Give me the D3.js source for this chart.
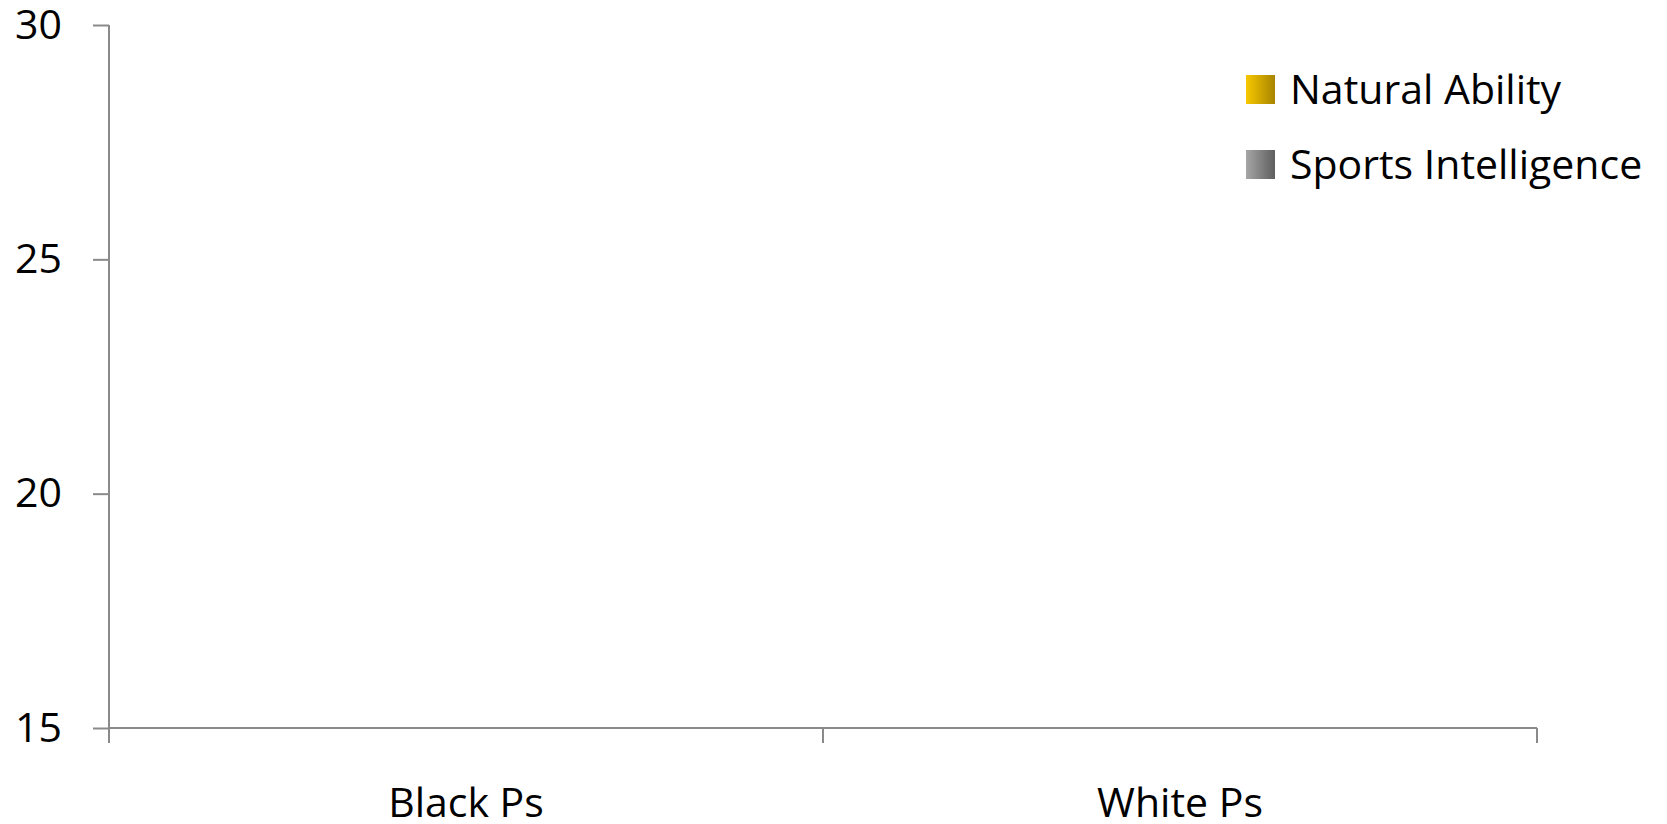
<!DOCTYPE html>
<html>
<head>
<meta charset="utf-8">
<script src="https://cdnjs.cloudflare.com/ajax/libs/d3/7.8.5/d3.min.js"></script>
<style>
  body { margin: 0; background: #fff; }
  svg text { font-family: "Open Sans", Lato, sans-serif; fill: #000; }
</style>
</head>
<body>
<div id="chart"></div>
<script>
// data: bars sit on (or below) the 15 baseline, so none show
var categories = ["Black Ps", "White Ps"];
var seriesNames = ["Natural Ability", "Sports Intelligence"];
var naturalAbility = [15, 15];
var sportsIntelligence = [15, 15];
var yTicks = [15, 20, 25, 30];

var W = 1667, H = 824;
var margin = {top: 25, right: 130, bottom: 96, left: 109};
var width = 1537 - margin.left,
    height = 728 - margin.top;
var fontSize = "41px";

var svg = d3.select("#chart").append("svg")
    .attr("width", W)
    .attr("height", H);

var defs = svg.append("defs");
var grads = [
    {id: "gGold", from: "#f7c800", to: "#a88400"},
    {id: "gGray", from: "#a6a6a6", to: "#5e5e5e"}
];
grads.forEach(function(g){
    var lg = defs.append("linearGradient").attr("id", g.id)
        .attr("x1", "0%").attr("x2", "100%").attr("y1", "0%").attr("y2", "0%");
    lg.append("stop").attr("offset", "0%").attr("stop-color", g.from);
    lg.append("stop").attr("offset", "100%").attr("stop-color", g.to);
});
var colors = {"Natural Ability": "url(#gGold)", "Sports Intelligence": "url(#gGray)"};

var g = svg.append("g")
    .attr("transform", "translate(" + margin.left + "," + margin.top + ")");

var y = d3.scaleLinear().domain([15, 30]).range([height, 0]);
var x0 = d3.scaleBand().domain(categories).range([0, width]);
var x1 = d3.scaleBand().domain(seriesNames).range([0, x0.bandwidth()]).paddingOuter(0.75);

var rows = categories.map(function(c, i){
    return {cat: c, vals: [
        {key: seriesNames[0], value: naturalAbility[i]},
        {key: seriesNames[1], value: sportsIntelligence[i]}
    ]};
});

// bars
g.selectAll(".grp")
    .data(rows)
    .enter().append("g")
    .attr("class", "grp")
    .attr("transform", function(d){ return "translate(" + x0(d.cat) + ",0)"; })
    .selectAll("rect")
    .data(function(d){ return d.vals; })
    .enter().append("rect")
    .attr("x", function(d){ return x1(d.key); })
    .attr("width", x1.bandwidth())
    .attr("y", function(d){ return y(Math.max(15, d.value)); })
    .attr("height", function(d){ return y(15) - y(Math.max(15, d.value)); })
    .attr("fill", function(d){ return colors[d.key]; });

var axisColor = "#8a8a8a";

// y axis
var yAxis = g.append("g")
    .call(d3.axisLeft(y).tickValues(yTicks).tickSize(16).tickPadding(31).tickFormat(d3.format("d")));
yAxis.selectAll("line").attr("stroke", axisColor).attr("stroke-width", 2);
yAxis.select(".domain").attr("stroke", axisColor).attr("stroke-width", 2)
    .attr("d", "M0," + y(30) + "V" + y(15));
yAxis.selectAll("text").style("font-size", fontSize).attr("dy", "0.32em");

// x axis: ticks between categories
var xAxis = g.append("g").attr("transform", "translate(0," + height + ")");
xAxis.append("line")
    .attr("x1", 0).attr("x2", width)
    .attr("stroke", axisColor).attr("stroke-width", 2);
var bounds = [0].concat(categories.map(function(c){ return x0(c) + x0.bandwidth(); }));
xAxis.selectAll(".xt")
    .data(bounds)
    .enter().append("line")
    .attr("class", "xt")
    .attr("x1", function(d){ return d; }).attr("x2", function(d){ return d; })
    .attr("y1", 0).attr("y2", 15)
    .attr("stroke", axisColor).attr("stroke-width", 2);
xAxis.selectAll(".xl")
    .data(categories)
    .enter().append("text")
    .attr("class", "xl")
    .attr("x", function(d){ return x0(d) + x0.bandwidth() / 2; })
    .attr("y", 89)
    .attr("text-anchor", "middle")
    .style("font-size", fontSize)
    .text(function(d){ return d; });

// legend
var legend = svg.append("g").attr("transform", "translate(1246,75)");
var item = legend.selectAll(".li")
    .data(seriesNames)
    .enter().append("g")
    .attr("class", "li")
    .attr("transform", function(d, i){ return "translate(0," + (i * 75) + ")"; });
item.append("rect")
    .attr("width", 29).attr("height", 29)
    .attr("fill", function(d){ return colors[d]; });
item.append("text")
    .attr("x", 44)
    .attr("y", 29)
    .style("font-size", fontSize)
    .text(function(d){ return d; });
</script>
</body>
</html>
